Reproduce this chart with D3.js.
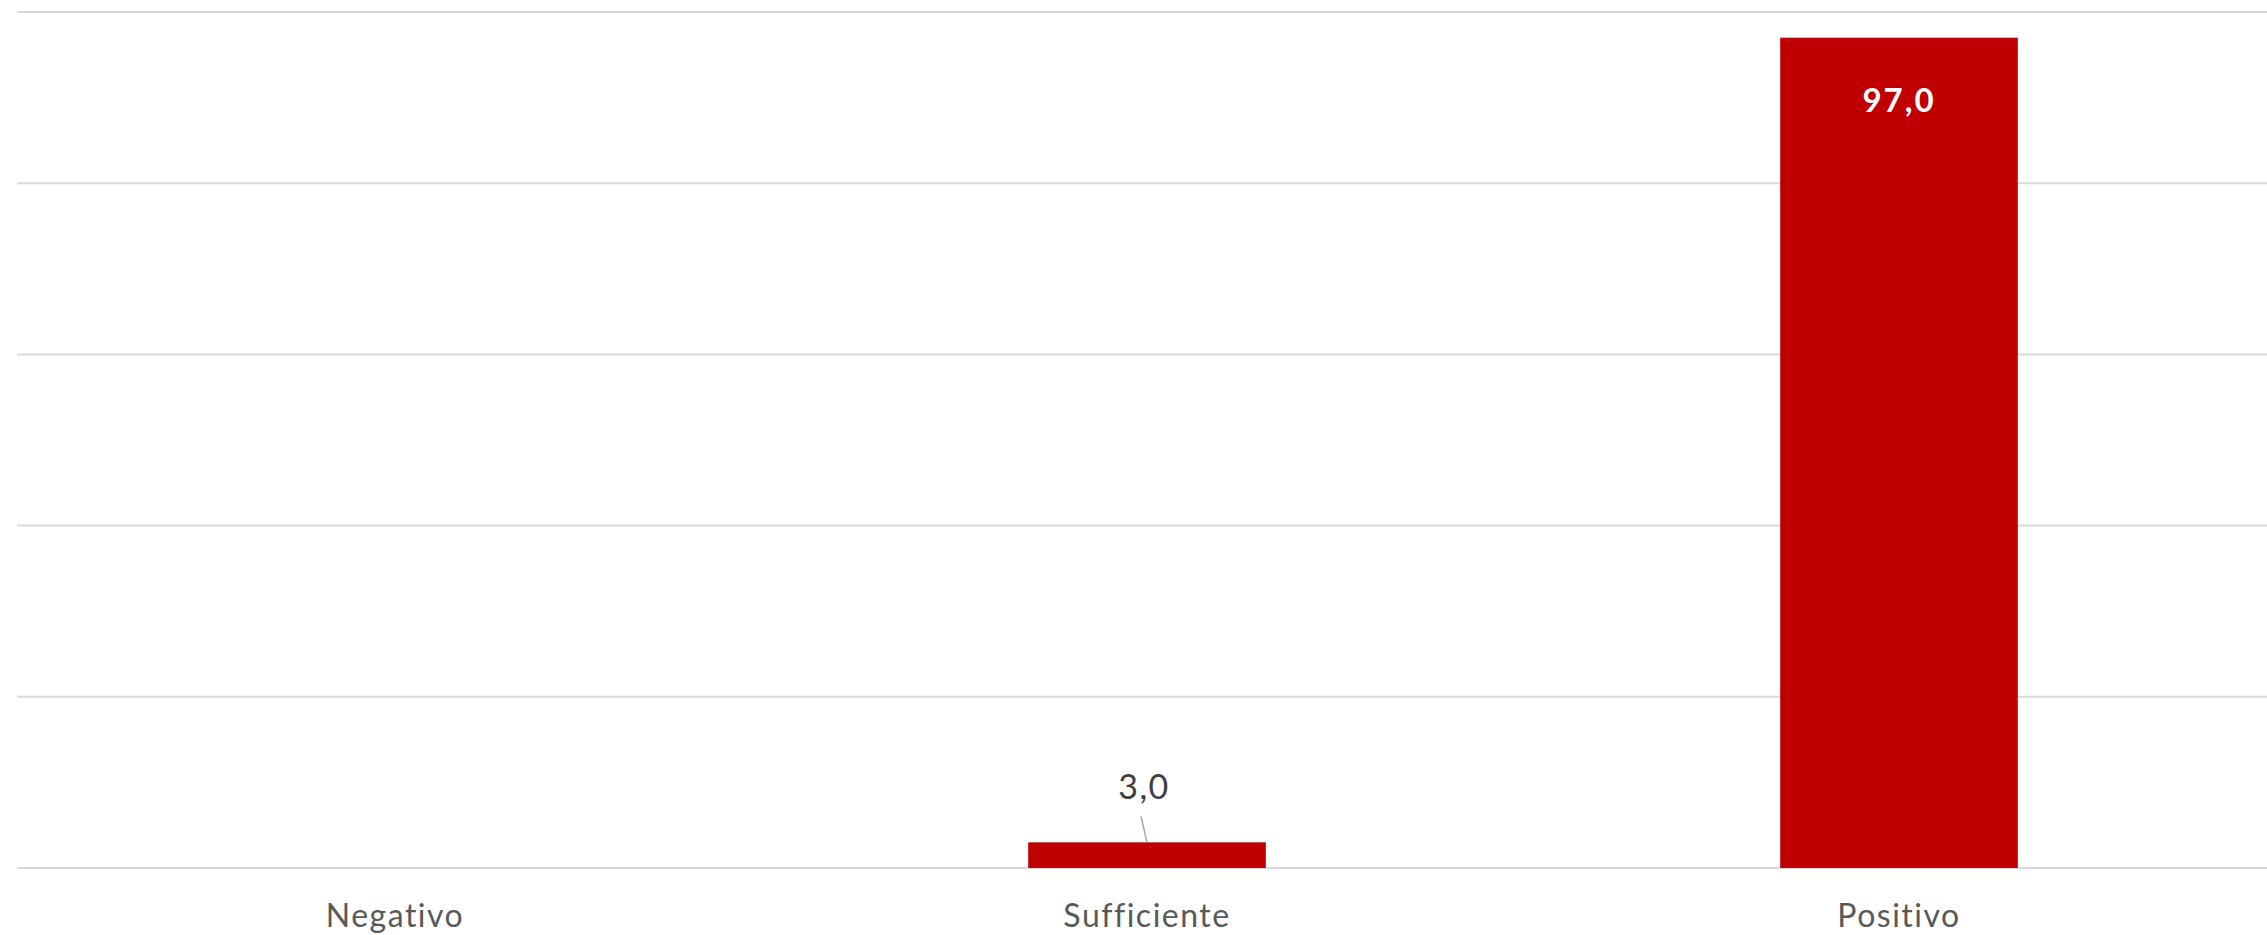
<!DOCTYPE html>
<html>
<head>
<meta charset="utf-8">
<script src="https://cdn.jsdelivr.net/npm/d3@7"></script>
<style>
  body { margin: 0; background: #fff; }
  text { font-family: Lato, "Open Sans", sans-serif; }
</style>
</head>
<body>
<div id="chart"></div>
<script>
// categories and values (percent)
const categories = ["Negativo", "Sufficiente", "Positivo"];
const values = [null, 3.0, 97.0];
const yTicks = [0, 20, 40, 60, 80, 100];

const width = 2267, height = 935;
const margin = {top: 12, right: -8, bottom: 67, left: 19};

const svg = d3.select("#chart").append("svg")
    .attr("width", width)
    .attr("height", height);

const x = d3.scaleBand()
    .domain(categories)
    .range([margin.left, width - margin.right])
    .paddingInner(0.684)
    .paddingOuter(0.342);

const y = d3.scaleLinear()
    .domain([0, 100])
    .range([height - margin.bottom, margin.top]);

const fmt = d3.formatLocale({decimal: ",", thousands: ".", grouping: [3], currency: ["", "€"]}).format(".1f");

// gridlines
svg.append("g")
    .selectAll("line")
    .data(yTicks)
    .enter()
    .append("line")
    .attr("x1", 17)
    .attr("x2", width)
    .attr("y1", d => y(d))
    .attr("y2", d => y(d))
    .style("stroke", "#d9d9d9")
    .style("stroke-width", 2);

const data = categories.map((c, i) => ({cat: c, val: values[i]}));

// bars
svg.append("g")
    .selectAll("rect")
    .data(data.filter(d => d.val !== null))
    .enter()
    .append("rect")
    .attr("x", d => x(d.cat))
    .attr("y", d => y(d.val))
    .attr("width", x.bandwidth())
    .attr("height", d => y(0) - y(d.val))
    .style("fill", "#C00000");

// category labels
svg.append("g")
    .selectAll("text")
    .data(categories)
    .enter()
    .append("text")
    .attr("x", d => x(d) + x.bandwidth() / 2)
    .attr("y", y(0) + 59)
    .attr("text-anchor", "middle")
    .style("font-size", "32px")
    .style("letter-spacing", "1.5px")
    .style("fill", "#595959")
    .text(d => d);

// data labels: inside end for tall bars, outside with a leader line for small ones
const labels = svg.append("g");
data.filter(d => d.val !== null).forEach(d => {
    const cx = x(d.cat) + x.bandwidth() / 2;
    if (d.val > 50) {
        labels.append("text")
            .attr("x", cx)
            .attr("y", y(d.val) + 74)
            .attr("text-anchor", "middle")
            .style("font-size", "33px")
            .style("letter-spacing", "2px")
            .style("font-weight", "bold")
            .style("fill", "#ffffff")
            .text(fmt(d.val));
    } else {
        labels.append("line")
            .attr("x1", cx - 6)
            .attr("y1", y(d.val) - 26)
            .attr("x2", cx)
            .attr("y2", y(d.val))
            .style("stroke", "#a6a6a6")
            .style("stroke-width", 1.5);
        labels.append("text")
            .attr("x", cx - 3)
            .attr("y", y(d.val) - 43)
            .attr("text-anchor", "middle")
            .style("font-size", "34px")
            .style("letter-spacing", "1.5px")
            .style("fill", "#404040")
            .text(fmt(d.val));
    }
});
</script>
</body>
</html>
